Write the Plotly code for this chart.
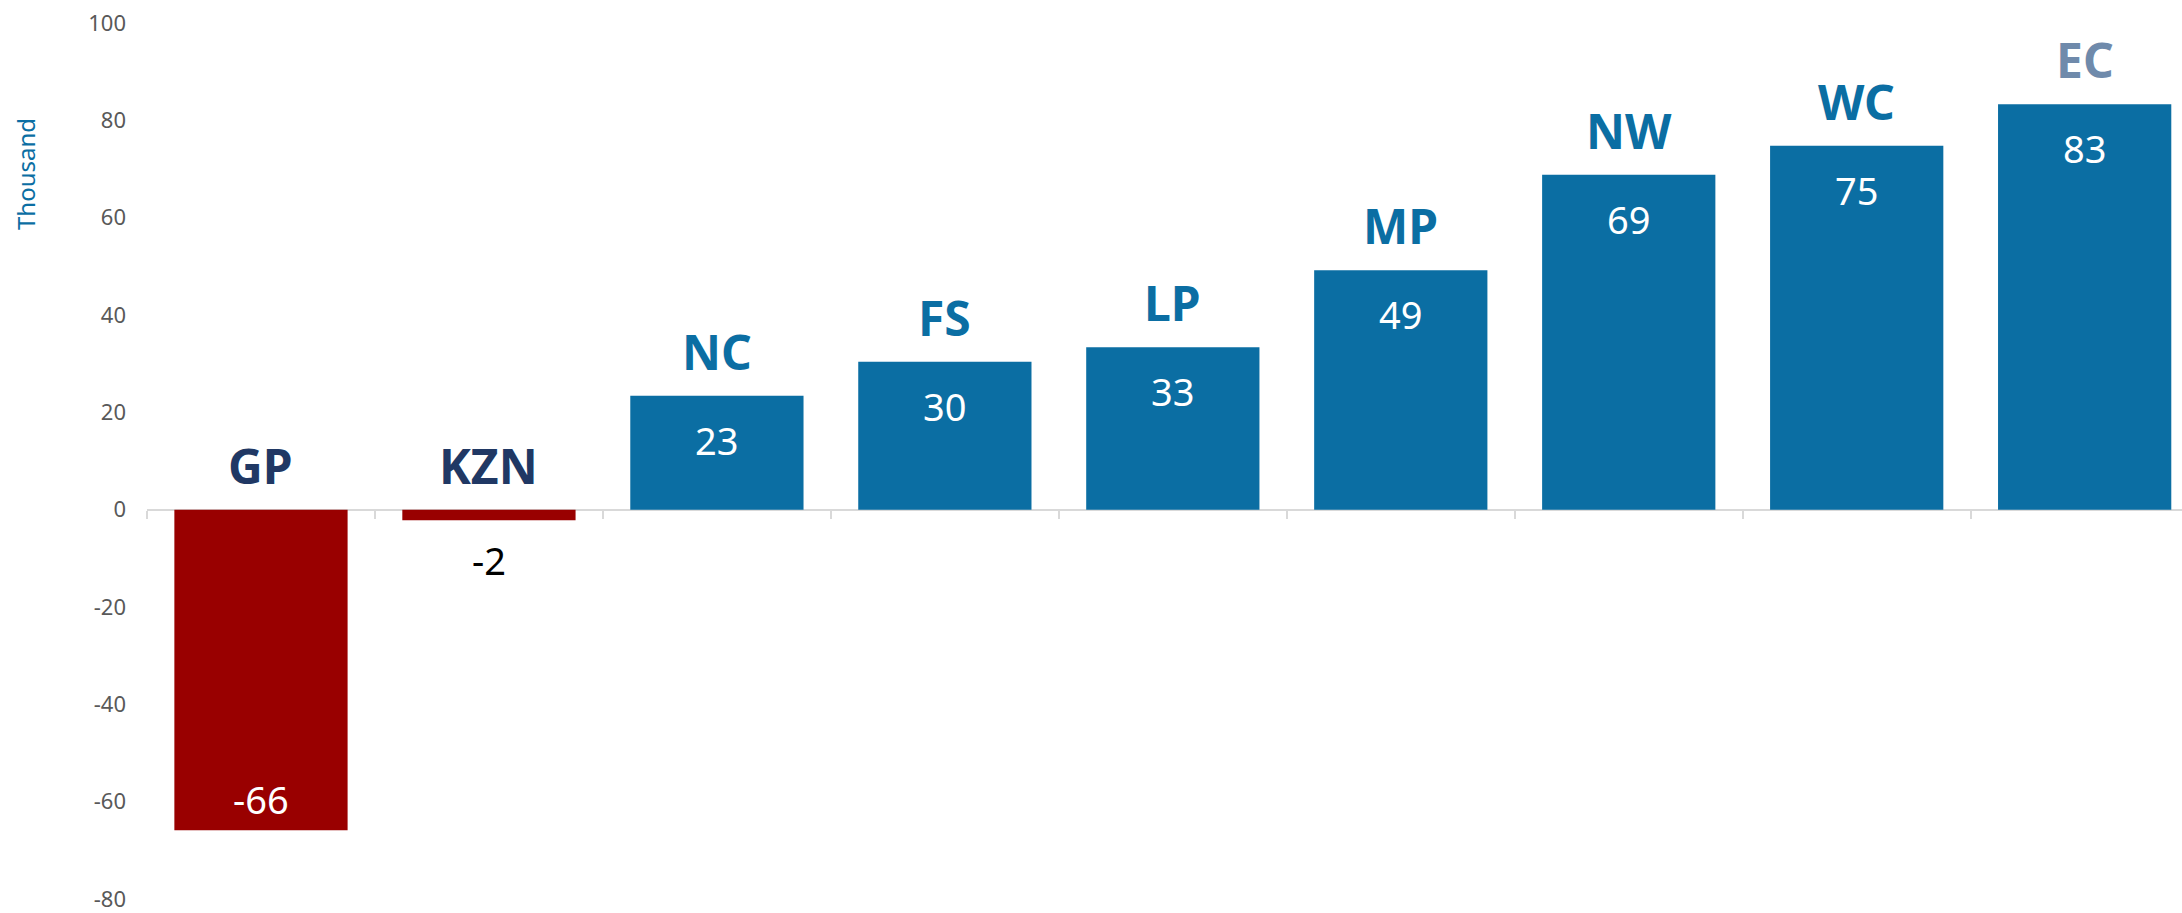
import plotly.graph_objects as go

# provinces, in the order they are drawn
regions = ['GP', 'KZN', 'NC', 'FS', 'LP', 'MP', 'NW', 'WC', 'EC']
# change, thousand
values = [-65.9, -2.2, 23.4, 30.4, 33.4, 49.2, 68.8, 74.8, 83.3]
y_ticks = [-80, -60, -40, -20, 0, 20, 40, 60, 80, 100]

BLUE = '#0B6EA3'
RED = '#990000'
NAVY = '#203864'
FONT = 'Noto Sans'

bar_colors = [RED if v < 0 else BLUE for v in values]
name_colors = [NAVY if v < 0 else BLUE for v in values]
name_colors[values.index(max(values))] = '#6F8AAB'

fig = go.Figure(go.Bar(
    x=regions,
    y=values,
    marker_color=bar_colors,
    marker_line_width=0,
    width=0.76,
    hoverinfo='x+y',
))

y_min, y_max = y_ticks[0], y_ticks[-1]

annotations = []
for r, v, c in zip(regions, values, name_colors):
    # value label
    if v >= 0:
        shift, col = -44, 'white'
    elif v < -10:
        shift, col = 31, 'white'
    else:
        shift, col = -40, 'black'
    annotations.append(dict(
        x=r, y=v, text=f'{v:.0f}', showarrow=False, yanchor='middle',
        yshift=shift, font=dict(family=FONT, size=38, color=col),
    ))
    # province name above the bar (or above zero for negatives)
    annotations.append(dict(
        x=r, y=max(v, 0), text=f'<b>{r}</b>', showarrow=False,
        yanchor='bottom', yshift=10, font=dict(family=FONT, size=48, color=c),
    ))

annotations.append(dict(
    xref='paper', yref='paper', x=-0.0598, y=0.828, text='Thousand',
    showarrow=False, textangle=-90, xanchor='center', yanchor='middle',
    font=dict(family=FONT, size=24, color=BLUE),
))

fig.update_layout(
    width=2182,
    height=913,
    margin=dict(l=147, r=0, t=23, b=11),
    paper_bgcolor='white',
    plot_bgcolor='white',
    showlegend=False,
    font=dict(family=FONT),
    annotations=annotations,
    xaxis=dict(
        type='category',
        range=[-0.5, 8.427],
        showticklabels=False,
        showgrid=False,
        zeroline=False,
        showline=True,
        linecolor='#D9D9D9',
        linewidth=2,
        ticks='outside',
        ticklen=8,
        tickwidth=2,
        tickcolor='#D9D9D9',
        tickson='boundaries',
        anchor='free',
        position=(0 - y_min) / (y_max - y_min),
        layer='below traces',
    ),
    yaxis=dict(
        range=[y_min - 0.01, y_max + 0.01],
        tickvals=y_ticks,
        ticktext=[str(t) for t in y_ticks],
        showgrid=False,
        zeroline=False,
        showline=False,
        ticks='',
        ticklabelstandoff=20,
        ticklabeloverflow='allow',
        tickfont=dict(family=FONT, size=22, color='#595959'),
    ),
)

fig.write_html('out.html', config={'displayModeBar': False},
               post_script="document.body.style.margin='0';")
